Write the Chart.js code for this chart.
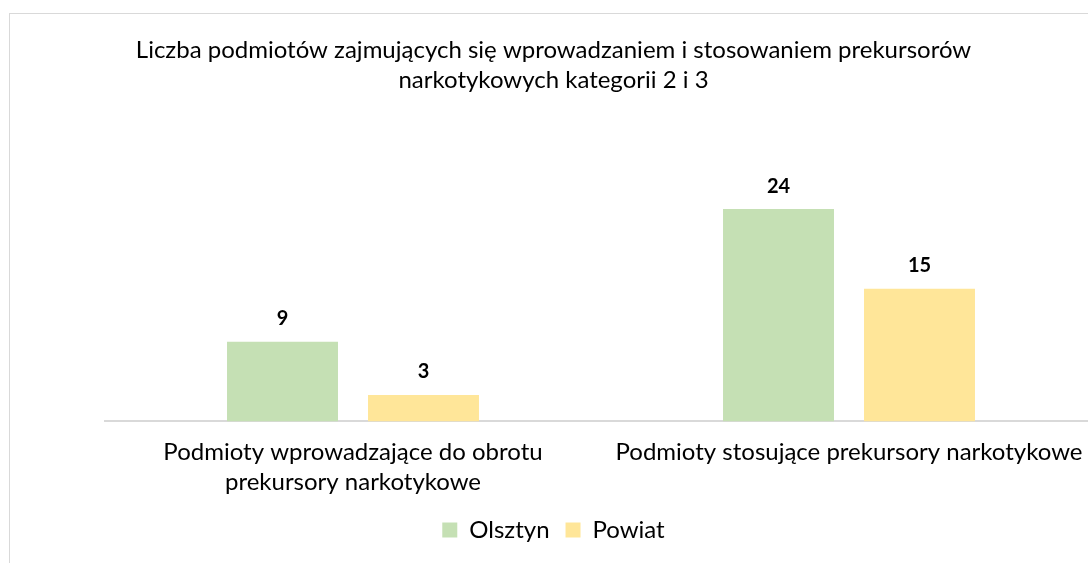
<!DOCTYPE html>
<html><head><meta charset="utf-8">
<script src="https://cdn.jsdelivr.net/npm/chart.js@4"></script>
<style>
html,body{margin:0;padding:0;background:#fff;overflow:hidden;width:1088px;height:563px;}
#frame{position:absolute;left:9px;top:13px;width:1100px;height:600px;border:1.5px solid #d9d9d9;box-sizing:border-box;}
#wrap{position:absolute;left:10px;top:14px;width:1091px;height:549px;}
</style></head>
<body>
<div id="frame"></div>
<div id="wrap"><canvas id="c"></canvas></div>
<script>
const titleLines = ["Liczba podmiotów zajmujących się wprowadzaniem i stosowaniem prekursorów", "narkotykowych kategorii 2 i 3"];
const categories = [["Podmioty wprowadzające do obrotu", "prekursory narkotykowe"], "Podmioty stosujące prekursory narkotykowe"];
const seriesNames = ["Olsztyn", "Powiat"];
const olsztyn = [9, 24];
const powiat = [3, 15];
const colors = ["#c5e0b4", "#ffe699"];

const valueLabels = {
  id: 'valueLabels',
  afterDatasetsDraw(chart) {
    const ctx = chart.ctx;
    ctx.save();
    ctx.font = 'bold 20px Lato';
    ctx.fillStyle = '#000';
    ctx.textAlign = 'center';
    ctx.textBaseline = 'middle';
    chart.data.datasets.forEach((ds, i) => {
      chart.getDatasetMeta(i).data.forEach((bar, j) => {
        ctx.fillText(String(ds.data[j]), bar.x, bar.y - 23);
      });
    });
    ctx.restore();
  }
};

new Chart(document.getElementById('c'), {
  type: 'bar',
  data: {
    labels: categories,
    datasets: [
      { label: seriesNames[0], data: olsztyn, backgroundColor: colors[0] },
      { label: seriesNames[1], data: powiat, backgroundColor: colors[1] }
    ]
  },
  options: {
    responsive: true,
    maintainAspectRatio: false,
    animation: false,
    datasets: { bar: { categoryPercentage: 0.5685, barPercentage: 0.787 } },
    layout: { padding: { left: 0, right: 4, top: 0, bottom: 11 } },
    plugins: {
      title: {
        display: true,
        text: titleLines,
        color: '#000',
        font: { family: 'Lato', size: 24, weight: 'normal', lineHeight: 1.25 },
        padding: { top: 21, bottom: 61 }
      },
      legend: {
        position: 'bottom',
        labels: {
          color: '#000',
          font: { family: 'Lato', size: 24 },
          boxWidth: 15, boxHeight: 15, padding: 16
        }
      },
      tooltip: { enabled: false }
    },
    scales: {
      x: {
        grid: { display: false },
        border: { display: true, color: '#d9d9d9', width: 2 },
        ticks: { color: '#000', font: { family: 'Lato', size: 24, lineHeight: 1.24 }, padding: 8, maxRotation: 0, autoSkip: false },
        afterFit: (s) => { s.height -= 3; }
      },
      y: {
        display: true, min: 0, max: 30,
        grid: { display: false },
        border: { display: false },
        ticks: { display: false },
        afterFit: (s) => { s.width = 95; }
      }
    }
  },
  plugins: [valueLabels]
});
</script>
</body></html>
